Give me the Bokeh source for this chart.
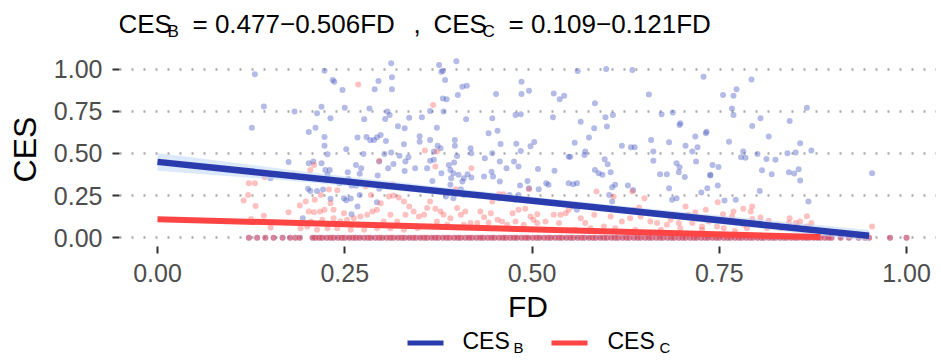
from bokeh.plotting import figure
from bokeh.models import Range1d, FixedTicker, PrintfTickFormatter
from bokeh.layouts import column
from bokeh.core.properties import value
from bokeh.embed import file_html
from bokeh.resources import INLINE

FONT = "Liberation Sans"

# ---------------- data ----------------
# CES_B scatter (non-zero values)
fd_b = [0.130, 0.142, 0.126, 0.175, 0.151,
        0.312, 0.223, 0.234, 0.236, 0.313, 0.295, 0.247, 0.290, 0.313, 0.219, 0.250, 0.283, 0.307, 0.310,
        0.213, 0.231, 0.183, 0.276, 0.304, 0.336, 0.353, 0.321, 0.330, 0.211, 0.202, 0.223, 0.267, 0.279,
        0.284, 0.289, 0.293, 0.298, 0.305, 0.329, 0.350, 0.350, 0.223, 0.252, 0.208, 0.202, 0.219, 0.227,
        0.275, 0.303, 0.312, 0.323, 0.331, 0.335, 0.330, 0.315, 0.344, 0.360, 0.265, 0.272, 0.296, 0.230,
        0.254, 0.224, 0.227, 0.255, 0.270, 0.294, 0.308, 0.243, 0.259, 0.265, 0.201, 0.204, 0.213, 0.221,
        0.270, 0.249, 0.252, 0.258, 0.267, 0.231, 0.194, 0.259, 0.296, 0.293, 0.336,
        0.376, 0.399, 0.381, 0.379, 0.384, 0.407, 0.413, 0.401, 0.381, 0.386, 0.452, 0.486, 0.496, 0.486,
        0.529, 0.537, 0.543, 0.364, 0.382, 0.412, 0.447, 0.442, 0.454, 0.485, 0.478, 0.528, 0.373, 0.364,
        0.374, 0.378, 0.369, 0.397, 0.397, 0.400, 0.418, 0.419, 0.447, 0.437, 0.458, 0.479, 0.503, 0.485,
        0.498, 0.549, 0.457, 0.476, 0.364, 0.369, 0.389, 0.396, 0.391, 0.379, 0.395, 0.402, 0.414, 0.409,
        0.407, 0.419, 0.436, 0.446, 0.448, 0.466, 0.482, 0.508, 0.530, 0.457, 0.484, 0.494, 0.509, 0.519,
        0.522, 0.549, 0.392, 0.391, 0.395, 0.389, 0.385, 0.405, 0.409, 0.433, 0.447, 0.456, 0.470, 0.478,
        0.482, 0.496, 0.367,
        0.561, 0.599, 0.634, 0.729, 0.656, 0.584, 0.598, 0.608, 0.565, 0.600, 0.583, 0.576, 0.557, 0.673,
        0.688, 0.697, 0.698, 0.732, 0.733, 0.718, 0.620, 0.632, 0.637, 0.659, 0.683, 0.705, 0.721, 0.714,
        0.571, 0.570, 0.597, 0.601, 0.551, 0.662, 0.662, 0.693, 0.697, 0.696, 0.704, 0.719, 0.671, 0.680,
        0.738, 0.584, 0.589, 0.594, 0.605, 0.555, 0.560, 0.611, 0.607, 0.628, 0.635, 0.603, 0.607, 0.683,
        0.687, 0.693, 0.726, 0.734, 0.555, 0.560,
        0.793, 0.773, 0.755, 0.769, 0.767, 0.769, 0.805, 0.794, 0.844, 0.867, 0.763, 0.816, 0.858, 0.873,
        0.782, 0.779, 0.785, 0.801, 0.813, 0.825, 0.841, 0.852, 0.741, 0.749, 0.738, 0.807, 0.820, 0.843,
        0.850, 0.856, 0.858, 0.748, 0.804, 0.757, 0.772, 0.869,
        0.954]
ces_b = [0.969, 0.779, 0.653, 0.450, 0.353,
         1.034, 0.990, 0.935, 0.925, 0.951, 0.929, 0.876, 0.880, 0.880, 0.777, 0.771, 0.767, 0.748, 0.728,
         0.738, 0.708, 0.748, 0.702, 0.704, 0.712, 0.714, 0.661, 0.649, 0.653, 0.627, 0.598, 0.594, 0.598,
         0.578, 0.580, 0.596, 0.609, 0.574, 0.554, 0.602, 0.570, 0.546, 0.525, 0.452, 0.442, 0.442, 0.495,
         0.497, 0.497, 0.505, 0.487, 0.452, 0.477, 0.396, 0.438, 0.412, 0.412, 0.432, 0.412, 0.452, 0.402,
         0.389, 0.402, 0.373, 0.349, 0.379, 0.369, 0.412, 0.323, 0.310, 0.308, 0.290, 0.278, 0.278, 0.286,
         0.254, 0.235, 0.223, 0.233, 0.185, 0.231, 0.116, 0.140, 0.290, 0.211, 0.298,
         1.024, 1.047, 0.990, 0.984, 0.935, 0.895, 0.901, 0.846, 0.826, 0.821, 0.852, 0.925, 0.872, 0.852,
         0.856, 0.821, 0.842, 0.751, 0.748, 0.702, 0.708, 0.619, 0.635, 0.732, 0.728, 0.714, 0.653, 0.580,
         0.546, 0.531, 0.511, 0.580, 0.546, 0.485, 0.531, 0.501, 0.501, 0.471, 0.556, 0.558, 0.568, 0.515,
         0.542, 0.481, 0.452, 0.452, 0.456, 0.462, 0.432, 0.446, 0.402, 0.383, 0.383, 0.373, 0.377, 0.353,
         0.333, 0.357, 0.363, 0.392, 0.363, 0.412, 0.422, 0.408, 0.398, 0.333, 0.310, 0.337, 0.288, 0.323,
         0.314, 0.323, 0.353, 0.314, 0.235, 0.264, 0.245, 0.288, 0.254, 0.254, 0.245, 0.235, 0.254, 0.225,
         0.254, 0.294, 0.337,
         0.988, 1.000, 0.994, 0.955, 0.850, 0.797, 0.714, 0.728, 0.688, 0.659, 0.649, 0.594, 0.564, 0.732,
         0.742, 0.669, 0.679, 0.619, 0.629, 0.600, 0.546, 0.536, 0.536, 0.580, 0.566, 0.546, 0.536, 0.511,
         0.511, 0.491, 0.465, 0.436, 0.481, 0.511, 0.457, 0.442, 0.418, 0.389, 0.361, 0.452, 0.377, 0.377,
         0.369, 0.402, 0.383, 0.373, 0.389, 0.318, 0.324, 0.314, 0.300, 0.310, 0.284, 0.254, 0.215, 0.294,
         0.225, 0.235, 0.268, 0.294, 0.185, 0.166,
         0.939, 0.880, 0.846, 0.842, 0.767, 0.728, 0.708, 0.663, 0.692, 0.771, 0.570, 0.600, 0.560, 0.517,
         0.511, 0.477, 0.475, 0.497, 0.467, 0.462, 0.501, 0.505, 0.432, 0.420, 0.373, 0.400, 0.377, 0.389,
         0.381, 0.406, 0.339, 0.310, 0.278, 0.221, 0.225, 0.215,
         0.383]

# CES_C scatter (non-zero values)
fd_c = [0.122, 0.130, 0.143, 0.121, 0.115, 0.131, 0.142, 0.125, 0.151, 0.175, 0.182,
        0.268, 0.209, 0.204, 0.198, 0.190, 0.202, 0.209, 0.217, 0.223, 0.231, 0.235, 0.240, 0.229, 0.218,
        0.210, 0.244, 0.253, 0.262, 0.271, 0.280, 0.287, 0.293, 0.298, 0.309, 0.315, 0.322, 0.329, 0.336,
        0.342, 0.349, 0.356, 0.360, 0.357, 0.296, 0.285, 0.278, 0.191, 0.200, 0.213, 0.227, 0.240, 0.258,
        0.276, 0.293, 0.311, 0.329, 0.347, 0.311, 0.320, 0.331, 0.302, 0.282, 0.267, 0.249, 0.235, 0.220,
        0.205, 0.314, 0.322,
        0.368, 0.373, 0.371, 0.419, 0.398, 0.456, 0.462, 0.496, 0.447, 0.364, 0.371, 0.378, 0.382, 0.391,
        0.400, 0.405, 0.411, 0.418, 0.436, 0.442, 0.454, 0.460, 0.474, 0.478, 0.482, 0.491, 0.498, 0.507,
        0.518, 0.529, 0.538, 0.545, 0.373, 0.387, 0.409, 0.427, 0.467, 0.489, 0.507, 0.536, 0.445, 0.431,
        0.502,
        0.586, 0.634, 0.650, 0.636, 0.643, 0.705, 0.718, 0.732, 0.609, 0.549, 0.565, 0.571, 0.583, 0.596,
        0.605, 0.620, 0.631, 0.645, 0.658, 0.667, 0.680, 0.685, 0.696, 0.709, 0.714, 0.727, 0.736, 0.558,
        0.578, 0.611, 0.638, 0.672, 0.698, 0.727,
        0.748, 0.794, 0.782, 0.769, 0.767, 0.755, 0.792, 0.794, 0.805, 0.816, 0.844, 0.867, 0.873, 0.858,
        0.852, 0.843, 0.827, 0.805, 0.783, 0.765, 0.747, 0.756, 0.771, 0.787, 0.814, 0.832, 0.854, 0.867,
        0.954]
ces_c = [0.324, 0.324, 0.359, 0.254, 0.221, 0.189, 0.130, 0.111, 0.061, 0.152, 0.373,
         0.909, 0.432, 0.402, 0.215, 0.191, 0.156, 0.152, 0.156, 0.166, 0.205, 0.166, 0.282, 0.286, 0.254,
         0.225, 0.097, 0.107, 0.116, 0.126, 0.136, 0.156, 0.166, 0.205, 0.245, 0.250, 0.239, 0.215, 0.185,
         0.156, 0.126, 0.136, 0.176, 0.517, 0.456, 0.254, 0.304, 0.057, 0.067, 0.047, 0.057, 0.057, 0.047,
         0.047, 0.057, 0.057, 0.047, 0.057, 0.136, 0.097, 0.136, 0.097, 0.077, 0.077, 0.146, 0.116, 0.107,
         0.097, 0.318, 0.304,
         0.787, 0.511, 0.422, 0.412, 0.288, 0.258, 0.258, 0.288, 0.215, 0.215, 0.172, 0.156, 0.136, 0.116,
         0.176, 0.136, 0.156, 0.087, 0.122, 0.091, 0.107, 0.097, 0.146, 0.097, 0.166, 0.172, 0.126, 0.140,
         0.097, 0.136, 0.136, 0.146, 0.097, 0.077, 0.077, 0.087, 0.077, 0.077, 0.087, 0.087, 0.146, 0.156,
         0.107,
         0.274, 0.274, 0.235, 0.166, 0.179, 0.185, 0.152, 0.166, 0.245, 0.166, 0.116, 0.087, 0.136, 0.067,
         0.126, 0.097, 0.116, 0.126, 0.097, 0.087, 0.077, 0.107, 0.087, 0.136, 0.087, 0.067, 0.097, 0.047,
         0.057, 0.057, 0.047, 0.047, 0.057, 0.047,
         0.211, 0.185, 0.172, 0.156, 0.126, 0.140, 0.156, 0.112, 0.120, 0.101, 0.116, 0.128, 0.087, 0.097,
         0.087, 0.087, 0.077, 0.077, 0.077, 0.097, 0.067, 0.057, 0.041, 0.057, 0.057, 0.057, 0.067, 0.067,
         0.067]

# FD of observations with CES = 0 (both services)
fd_zero = [0.122, 0.133, 0.144, 0.155, 0.167, 0.177, 0.184, 0.190,
           0.207, 0.211, 0.216, 0.220, 0.226, 0.231, 0.235, 0.241, 0.246, 0.250, 0.256, 0.261, 0.265,
           0.270, 0.276, 0.281, 0.285, 0.291, 0.296, 0.300, 0.306, 0.311, 0.315, 0.321, 0.326, 0.330,
           0.336, 0.341, 0.345, 0.351, 0.356, 0.360, 0.366, 0.371, 0.375, 0.381, 0.386, 0.390, 0.396,
           0.401, 0.405, 0.411, 0.416, 0.420, 0.426, 0.431, 0.435, 0.441, 0.446, 0.450, 0.456, 0.461,
           0.465, 0.471, 0.476, 0.480, 0.486, 0.491, 0.495, 0.501, 0.506, 0.510, 0.516, 0.521, 0.525,
           0.531, 0.536, 0.540, 0.546, 0.551, 0.555, 0.561, 0.566, 0.570, 0.576, 0.581, 0.585, 0.591,
           0.596, 0.600, 0.606, 0.611, 0.615, 0.621, 0.626, 0.630, 0.636, 0.641, 0.645, 0.651, 0.656,
           0.660, 0.666, 0.671, 0.675, 0.681, 0.686, 0.690, 0.696, 0.701, 0.705, 0.711, 0.716, 0.720,
           0.726, 0.731, 0.735, 0.741, 0.746, 0.750, 0.756, 0.761, 0.765, 0.771, 0.776, 0.780, 0.786,
           0.791, 0.795, 0.801, 0.806, 0.810, 0.816, 0.821, 0.825, 0.831, 0.836, 0.840, 0.846, 0.851,
           0.855, 0.861, 0.866, 0.870, 0.876, 0.881, 0.885, 0.891, 0.896, 0.900, 0.912, 0.923, 0.936,
           0.945, 0.950, 0.978, 1.000]
ces_zero = [0.0] * len(fd_zero)

# fitted lines (as drawn) and confidence band of CES_B
fit_fd_b = [0.0, 0.95]
fit_ces_b = [0.450, 0.012]
fit_fd_c = [0.0, 0.885]
fit_ces_c = [0.110, 0.004]
band_fd = [0.0, 0.2, 0.4, 0.6, 0.8, 0.95]
band_lo = [0.398, 0.330, 0.246, 0.154, 0.058, -0.020]
band_hi = [0.502, 0.390, 0.290, 0.198, 0.112, 0.046]

ticks = [0.0, 0.25, 0.5, 0.75, 1.0]
title_parts = ["CES", "= 0.477\u22120.506FD", ",", "CES", "= 0.109\u22120.121FD"]
title_subs = ["B", "C"]
legend_names = ["CES", "CES"]
legend_subs = ["B", "C"]

BLUE = "#2A3BAE"
RED = "#FF4444"
BLUE_PT = "#4455C0"
RED_PT = "#FF4040"

W = 936
FL = 119            # frame left of the main panel; the column aligns all frames to it
TH = 52             # title strip height
FH = 194            # frame height
MB = 84             # space under the frame for the x axis
MH = FH + MB
LH = 363 - TH - MH  # legend strip height


def strip(h):
    # text strip whose x coordinates are page pixels (its frame spans page x FL .. W)
    s = figure(width=W, height=h, x_range=Range1d(FL, W), y_range=Range1d(h, 0),
               toolbar_location=None, output_backend="svg", min_border=0,
               x_axis_location=None, y_axis_location=None, outline_line_color=None)
    s.grid.visible = False
    return s


def put_text(fig, xs, ys, texts, size):
    # ys are the wanted baselines; the svg text sits ~0.35em lower than the anchor
    shift = 0.35 * size
    fig.text(x=xs, y=[y - shift for y in ys], text=texts,
             text_font=value(FONT), text_font_size=f"{size}px", text_baseline="alphabetic",
             text_align="left", text_color="black")


# ---------------- title strip (y = page y) ----------------
pt = strip(TH)
put_text(pt, [118, 192, 413, 433, 508], [33] * 5, title_parts, 26)
put_text(pt, [167, 482], [36.5] * 2, title_subs, 17)

# ---------------- main panel ----------------
p = figure(width=W, height=MH, x_range=Range1d(-0.0507, 1.040), y_range=Range1d(-0.0516, 1.0984),
           toolbar_location=None, output_backend="svg",
           min_border_left=FL, min_border_right=0, min_border_top=0, min_border_bottom=MB,
           outline_line_color=None, background_fill_color="white", border_fill_color="white")

p.scatter(fd_b, ces_b, size=6, fill_color=BLUE_PT, fill_alpha=0.4, line_color=None)
p.scatter(fd_zero, ces_zero, size=6, fill_color=BLUE_PT, fill_alpha=0.4, line_color=None)
p.scatter(fd_c, ces_c, size=6, fill_color=RED_PT, fill_alpha=0.33, line_color=None)
p.scatter(fd_zero, ces_zero, size=6, fill_color=RED_PT, fill_alpha=0.45, line_color=None)

p.varea(x=band_fd, y1=band_lo, y2=band_hi, fill_color="#B7D4F7", fill_alpha=0.5)
p.line(fit_fd_b, fit_ces_b, line_color=BLUE, line_width=6.5)
p.line(fit_fd_c, fit_ces_c, line_color=RED, line_width=6)

for ax in (p.xaxis[0], p.yaxis[0]):
    ax.ticker = FixedTicker(ticks=ticks)
    ax.formatter = PrintfTickFormatter(format="%.2f")
    ax.axis_line_color = None
    ax.major_tick_out = 7
    ax.major_tick_in = 0
    ax.major_tick_line_width = 2
    ax.major_tick_line_color = "#333333"
    ax.minor_tick_line_color = None
    ax.major_label_text_font = FONT
    ax.major_label_text_font_size = "25px"
    ax.major_label_text_color = "#4D4D4D"
    ax.axis_label_text_font = FONT
    ax.axis_label_text_font_style = "normal"
    ax.axis_label_text_color = "black"

p.xaxis.axis_label = "FD"
p.xaxis.axis_label_text_font_size = "30px"
p.xaxis.major_label_standoff = 10
p.xaxis.axis_label_standoff = 5
p.yaxis.axis_label = "CES"
p.yaxis.axis_label_text_font_size = "32px"
p.yaxis.major_label_standoff = 10
p.yaxis.axis_label_standoff = 8

p.xgrid.visible = False
p.ygrid.grid_line_color = "#ABABAB"
p.ygrid.grid_line_width = 2.4
p.ygrid.grid_line_dash = "2 10"

# ---------------- legend strip (y = page y - top of strip) ----------------
pl = strip(LH)
y0 = TH + MH
pl.segment(x0=[407, 551], x1=[443, 587], y0=[342.5 - y0] * 2, y1=[342.5 - y0] * 2,
           line_color=[BLUE, RED], line_width=5)
put_text(pl, [462, 607], [348.5 - y0] * 2, legend_names, 23)
put_text(pl, [513, 659], [352 - y0] * 2, legend_subs, 15)

layout = column(pt, p, pl, spacing=0)
open("out.html", "w").write(file_html(layout, INLINE))
